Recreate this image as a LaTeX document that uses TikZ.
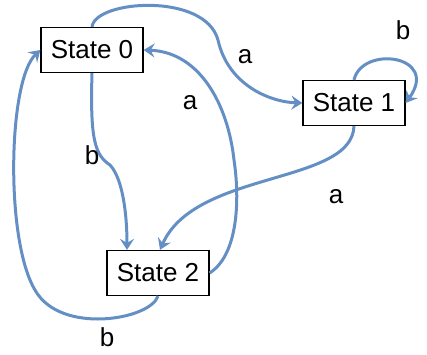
\documentclass[tikz,border=0pt]{standalone}
\usepackage{fontspec}
\setmainfont{Liberation Sans}
\usetikzlibrary{arrows.meta}
\definecolor{edgeblue}{RGB}{100,143,196}
\tikzset{
  statebox/.style={draw, line width=1.2pt, minimum width=102pt, minimum height=45pt, inner sep=0pt, font=\fontsize{26}{30}\selectfont},
  trans/.style={draw=edgeblue, line width=3pt, -{Stealth[length=11pt,width=14pt,inset=4pt]}},
  lbl/.style={font=\fontsize{26}{30}\selectfont}
}
\begin{document}
\begin{tikzpicture}[x=1pt,y=-1pt]
\useasboundingbox (0,0) rectangle (427,354);
\node[statebox] (s0) at (92,50) {State 0};
\node[statebox] (s1) at (354,103) {State 1};
\node[statebox] (s2) at (158,273) {State 2};
\draw[trans] (s0.north) .. controls (95,0) and (205,-8) .. (218,40) .. controls (228,85) and (270,102) .. (s1.west);
\draw[trans] (s1.north) .. controls (362,45) and (440,55) .. (s1.east);
\draw[trans] (s1.south) .. controls (352,185) and (195,170) .. ([xshift=2pt]s2.north);
\draw[trans] (s2.east) .. controls (238,255) and (240,200) .. (234,160) .. controls (228,105) and (200,52) .. (s0.east);
\draw[trans] (s0.south) .. controls (90,140) and (95,155) .. (110,165) .. controls (124,180) and (127,220) .. ([xshift=-31pt]s2.north);
\draw[trans] (s2.south) .. controls (150,320) and (60,335) .. (35,290) .. controls (5,240) and (8,80) .. (s0.west);
\node[lbl] (la01) at (245,57) {a};
\node[lbl] (lb11) at (403,30) {b};
\node[lbl] (la20) at (190,103) {a};
\node[lbl] (lb02) at (92,155) {b};
\node[lbl] (la12) at (336,197) {a};
\node[lbl] (lb20) at (107,337) {b};
\end{tikzpicture}
\end{document}
